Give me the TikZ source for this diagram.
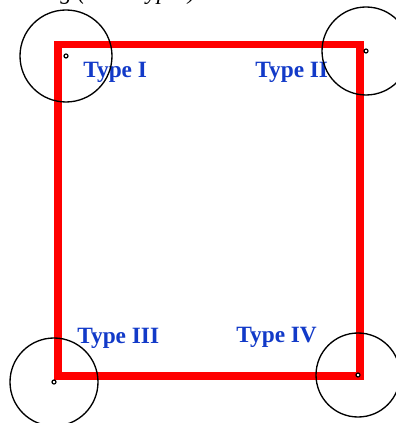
\documentclass[tikz,border=0pt]{standalone}
\usepackage{fontspec}
\setmainfont{Liberation Serif}
\definecolor{typeblue}{RGB}{18,58,200}
\definecolor{framered}{RGB}{255,0,0}
\tikzset{
  typelabel/.style={anchor=base west, inner sep=0pt, text=typeblue, font=\fontsize{17.5}{20}\selectfont\bfseries},
  ring/.style={draw=black, line width=1pt, circle, inner sep=0pt, minimum size=#1},
  pin/.style={draw=black, fill=white, line width=0.9pt, circle, inner sep=0pt, minimum size=3pt},
  frame/.style={draw=framered, line width=5.3pt, line join=miter}
}
\begin{document}
\begin{tikzpicture}[x=0.75pt, y=-0.75pt]
\useasboundingbox (0,0) rectangle (395,423);
% clipped caption at the top
\node[anchor=base west, inner sep=0pt, font=\fontsize{17.5}{20}\selectfont\itshape] (cap) at (60,0) {g (in all types)};
% frame
\coordinate (tl) at (58,44.5);
\coordinate (tr) at (360,44.5);
\coordinate (br) at (360,376);
\coordinate (bl) at (58,376);
\draw[frame] (tl) -- (tr) -- (br) -- (bl) -- cycle;
% labels
\node[typelabel] (t1) at (83,78) {Type I};
\node[typelabel] (t2) at (255,78) {Type II};
\node[typelabel] (t3) at (77,343) {Type III};
\node[typelabel] (t4) at (236,342) {Type IV};
% circles and centre points
\node[ring=92*0.75pt] (c1) at (66,56) {};
\node[ring=88*0.75pt] (c2) at (366,51) {};
\node[ring=88*0.75pt] (c3) at (54,382) {};
\node[ring=84*0.75pt] (c4) at (358,375) {};
\node[pin] (p1) at (c1.center) {};
\node[pin] (p2) at (c2.center) {};
\node[pin] (p3) at (c3.center) {};
\node[pin] (p4) at (c4.center) {};
\end{tikzpicture}
\end{document}
